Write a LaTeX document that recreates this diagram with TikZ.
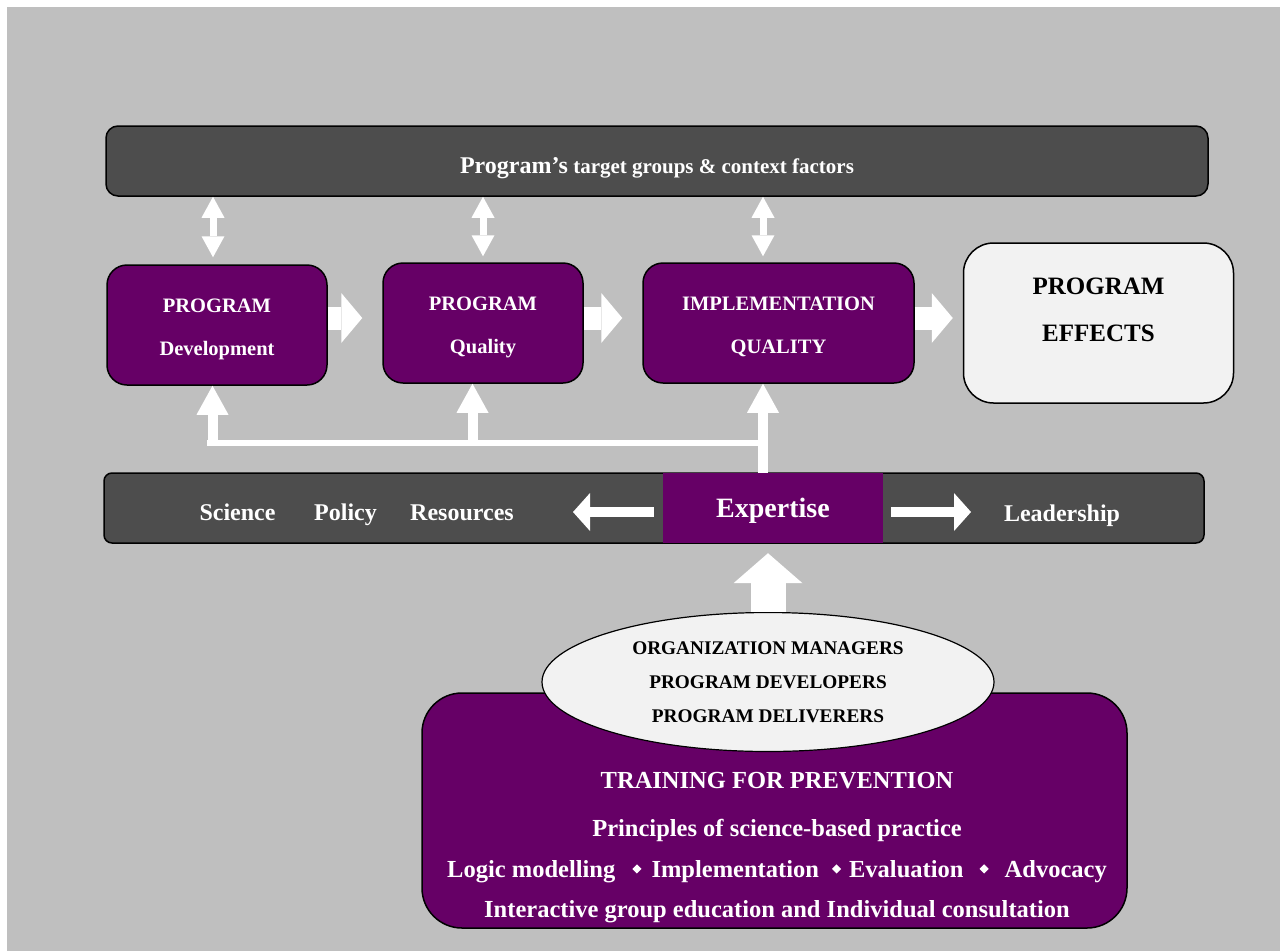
\documentclass[tikz,border=0pt]{standalone}
\usepackage{fontspec}
\setmainfont{Liberation Serif}
\usetikzlibrary{arrows.meta,shapes.geometric}
\definecolor{bggray}{HTML}{BFBFBF}
\definecolor{barfill}{HTML}{4D4D4D}
\definecolor{plum}{HTML}{660066}
\definecolor{paper}{HTML}{F2F2F2}
\newcommand{\dia}{\raisebox{3.5pt}{\rotatebox{45}{\rule{6.5pt}{6.5pt}}}}
\tikzset{
	dbltip/.tip={Triangle[width=23pt,length=21pt,line width=0pt]},
	blocktip/.tip={Triangle[width=50pt,length=21pt,line width=0pt]},
	feedtip/.tip={Triangle[width=32pt,length=29pt,line width=0pt]},
	sidetip/.tip={Triangle[width=38pt,length=17pt,line width=0pt]},
	bigtip/.tip={Triangle[width=69pt,length=30pt,line width=0pt]},
	darkbar/.style={draw=black, line width=1.5pt, fill=barfill, inner sep=0pt},
	stagebox/.style={draw=black, line width=1.5pt, fill=plum, rounded corners=20pt, text=white, align=center, inner sep=0pt, minimum height=120pt, font=\bfseries\fontsize{20.5}{43}\selectfont},
	bartext/.style={anchor=base, text=white, inner sep=0pt, font=\bfseries\fontsize{24}{28}\selectfont},
	traintext/.style={anchor=base, text=white, inner sep=0pt, font=\bfseries\fontsize{24.5}{30}\selectfont},
	dblarrow/.style={draw=white, line width=7pt, dbltip-dbltip},
	blockarrow/.style={draw=white, line width=23pt, -blocktip},
	feedarrow/.style={draw=white, line width=10pt, -feedtip},
	sidearrow/.style={draw=white, line width=10pt, -sidetip},
	bigarrow/.style={draw=white, line width=35pt, -bigtip}
}
\newcommand{\lift}{\rule{0pt}{22pt}}
\begin{document}
\begin{tikzpicture}[x=1pt, y=-1pt]
	\useasboundingbox (0,0) rectangle (1280,951);
	\fill[bggray] (7,7) rectangle (1280,951);
	
	% context bar
	\node[darkbar, rounded corners=12pt, minimum width=1102pt, minimum height=70pt, text=white, text height=24pt, text depth=0pt] (ctx) at (657,161)
		{\bfseries{\fontsize{24}{28}\selectfont Program’s}{\fontsize{21}{25}\selectfont\ target groups \& context factors}};
	
	% stages
	\node[stagebox, minimum width=220pt] (dev) at (217,325) {\lift PROGRAM\\Development};
	\node[stagebox, minimum width=200pt] (qual) at (483,323) {\lift PROGRAM\\Quality};
	\node[stagebox, minimum width=271pt] (imp) at (778.5,323) {\lift IMPLEMENTATION\\QUALITY};
	\node[draw=black, line width=1.5pt, fill=paper, rounded corners=30pt, minimum width=270pt, minimum height=160pt] (effects) at (1098.5,323) {};
	\node[align=center, inner sep=0pt, font=\bfseries\fontsize{25}{47}\selectfont] (effectslabel) at ([yshift=13pt]effects.center) {PROGRAM\\EFFECTS};
	
	\draw[dblarrow, shorten <=7pt] ([xshift=-4pt]dev.north) -- ([xshift=-4pt]dev.north |- ctx.south);
	\draw[dblarrow, shorten <=6pt] (qual.north) -- (qual.north |- ctx.south);
	\draw[dblarrow, shorten <=6pt] ([xshift=-15.5pt]imp.north) -- ([xshift=-15.5pt]imp.north |- ctx.south);
	
	\draw[blockarrow, shorten >=20pt] ([yshift=7pt]dev.east) -- ([yshift=7pt]dev.east -| qual.west);
	\draw[blockarrow, shorten >=20pt] ([yshift=5pt]qual.east) -- ([yshift=5pt]qual.east -| imp.west);
	\draw[blockarrow, shorten >=10pt] ([yshift=5pt]imp.east) -- ([yshift=5pt]imp.east -| effects.west);
	
	% resources bar
	\node[darkbar, rounded corners=8pt, minimum width=1100pt, minimum height=70pt] (res) at (654,508) {};
	\node[fill=plum, text=white, inner sep=0pt, minimum width=220pt, minimum height=70pt, text height=22pt, text depth=4pt, font=\bfseries\fontsize{28}{32}\selectfont] (expert) at (773,508) {Expertise};
	\node[bartext] (sci) at (237.5,520) {Science};
	\node[bartext] (pol) at (345.5,520) {Policy};
	\node[bartext] (rsc) at (462,520) {Resources};
	\node[bartext] (lead) at (1062,521) {Leadership};
	\coordinate (leftend) at (573,512);
	\coordinate (rightend) at (971,512);
	\draw[sidearrow, shorten <=9pt] (expert.west |- leftend) -- (leftend);
	\draw[sidearrow, shorten <=8pt] (expert.east |- rightend) -- (rightend);
	
	% feed lines
	\coordinate (hubL) at (212.5,443);
	\coordinate (hubM) at (472.5,443);
	\coordinate (hubR) at (763,443);
	\draw[white, line width=6pt] ([xshift=-5.5pt]hubL) -- (hubR);
	\draw[feedarrow] ([yshift=-3pt]hubL) -- (hubL |- dev.south);
	\draw[feedarrow] (hubM) -- (hubM |- qual.south);
	\draw[feedarrow] (expert.north -| hubR) -- (hubR |- imp.south);
	
	% training
	\node[draw=black, line width=1.5pt, fill=plum, rounded corners=40pt, minimum width=705pt, minimum height=235pt] (train) at (774.5,810.5) {};
	\node[ellipse, draw=black, line width=1.2pt, fill=paper, inner sep=0pt, minimum width=452pt, minimum height=139pt, align=center, font=\bfseries\fontsize{19.3}{34}\selectfont] (staff) at (768,682)
		{ORGANIZATION MANAGERS\\PROGRAM DEVELOPERS\\PROGRAM DELIVERERS};
	\draw[bigarrow, shorten >=10pt] (staff.north) -- (staff.north |- expert.south);
	
	\node[traintext] (tr1) at (777,788) {TRAINING FOR PREVENTION};
	\node[traintext] (tr2) at (777,836) {Principles of science-based practice};
	\node[traintext] (tr3) at (777,877) {Logic modelling\hspace{17pt}\dia\hspace{10pt}Implementation\hspace{13pt}\dia\hspace{8pt}Evaluation\hspace{16pt}\dia\hspace{16pt}Advocacy};
	\node[traintext] (tr4) at (777,917) {Interactive group education and Individual consultation};
\end{tikzpicture}
\end{document}
